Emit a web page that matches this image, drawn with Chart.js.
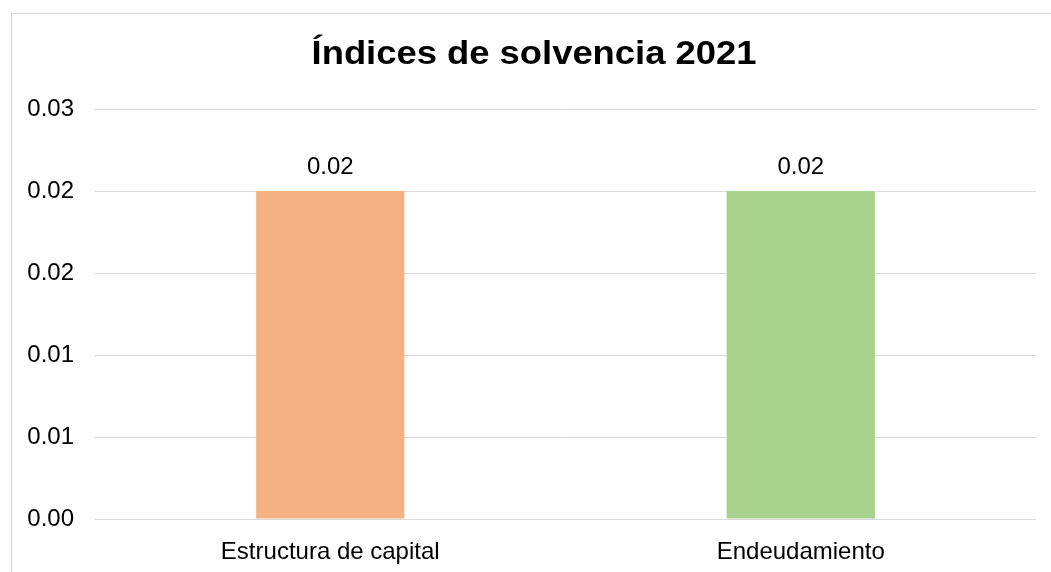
<!DOCTYPE html>
<html>
<head>
<meta charset="utf-8">
<script src="https://cdn.jsdelivr.net/npm/chart.js@4.4.1/dist/chart.umd.min.js"></script>
<style>
  html, body { margin: 0; padding: 0; background: #fff; overflow: hidden; }
  #frame {
    position: absolute; left: 11px; top: 13px;
    width: 1100px; height: 620px;
    border: 1px solid #d9d9d9;
  }
  #wrap { position: absolute; left: 0; top: 0; width: 1051px; height: 572px; }
</style>
</head>
<body>
<div id="frame"></div>
<div id="wrap"><canvas id="chart"></canvas></div>
<script>
const chartTitle = 'Índices de solvencia 2021';
const categories = ['Estructura de capital', 'Endeudamiento'];
const values = [0.02, 0.02];
const barColors = ['#F4B183', '#A9D18E'];
const yTickLabels = ['0.00', '0.01', '0.01', '0.02', '0.02', '0.03'];

const FONT = '"Liberation Sans", Arial, sans-serif';

// Titulo centrado sobre el marco del grafico (glifos algo ensanchados)
const titlePlugin = {
    id: 'wide-title',
    afterDraw(chart) {
        const { ctx } = chart;
        ctx.save();
        ctx.font = `bold 34px ${FONT}`;
        ctx.fillStyle = '#000';
        ctx.textAlign = 'center';
        ctx.textBaseline = 'alphabetic';
        ctx.translate(534, 64);
        ctx.scale(1.07, 1);
        ctx.fillText(chartTitle, 0, 0);
        ctx.restore();
    },
};

// Etiquetas de datos encima de cada barra
const dataLabelPlugin = {
    id: 'data-labels',
    afterDatasetsDraw(chart) {
        const { ctx } = chart;
        const meta = chart.getDatasetMeta(0);
        ctx.save();
        ctx.font = `24px ${FONT}`;
        ctx.fillStyle = '#000';
        ctx.textAlign = 'center';
        ctx.textBaseline = 'alphabetic';
        meta.data.forEach((bar, i) => {
            ctx.fillText(values[i].toFixed(2), bar.x, bar.y - 17);
        });
        ctx.restore();
    },
};

new Chart(document.getElementById('chart'), {
    type: 'bar',
    plugins: [dataLabelPlugin, titlePlugin],
    data: {
        labels: categories,
        datasets: [{
            data: values,
            backgroundColor: barColors,
            borderWidth: 0,
            categoryPercentage: 1,
            barPercentage: 0.315,
        }],
    },
    options: {
        responsive: true,
        maintainAspectRatio: false,
        animation: false,
        layout: { padding: { left: 0, right: 15, top: 109, bottom: 0 } },
        plugins: {
            legend: { display: false },
            tooltip: { enabled: false },
            title: { display: false },
        },
        scales: {
            x: {
                afterFit: scale => { scale.height = 53; },
                grid: { display: false },
                border: { display: false },
                ticks: {
                    color: '#000',
                    font: { family: FONT, size: 24 },
                    padding: 11,
                    maxRotation: 0,
                },
            },
            y: {
                min: 0,
                max: 0.025,
                afterFit: scale => { scale.width = 95; },
                grid: { color: '#d9d9d9', lineWidth: 1, drawTicks: false },
                border: { display: false },
                ticks: {
                    stepSize: 0.005,
                    color: '#000',
                    font: { family: FONT, size: 24 },
                    padding: 21,
                    callback: (v, i) => yTickLabels[i],
                },
            },
        },
    },
});
</script>
</body>
</html>
